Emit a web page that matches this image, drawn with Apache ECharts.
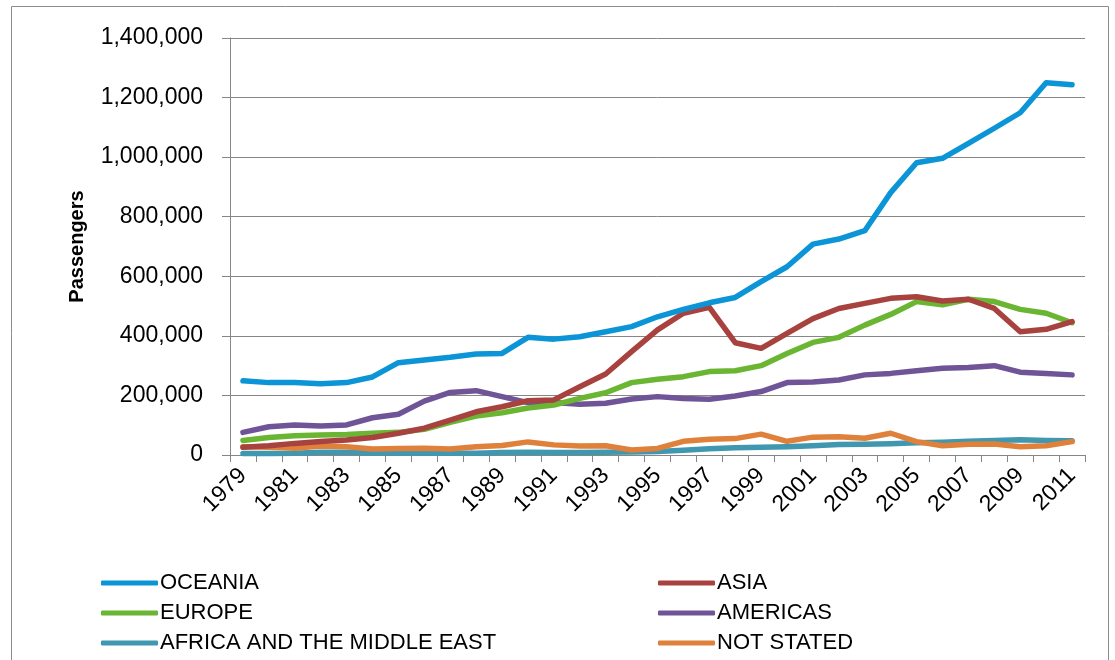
<!DOCTYPE html>
<html>
<head>
<meta charset="utf-8">
<script src="https://cdn.jsdelivr.net/npm/echarts@6/dist/echarts.min.js"></script>
<style>
html,body{margin:0;padding:0;background:#fff;}
#chart{width:1115px;height:660px;}
</style>
</head>
<body>
<div id="chart"></div>
<script>
var years = ['1979','1980','1981','1982','1983','1984','1985','1986','1987','1988','1989','1990','1991','1992','1993','1994','1995','1996','1997','1998','1999','2000','2001','2002','2003','2004','2005','2006','2007','2008','2009','2010','2011'];
var yTicks = [0, 200000, 400000, 600000, 800000, 1000000, 1200000, 1400000];

var oceania = [249000,243000,243000,239000,243000,262000,310000,319000,328000,339000,341000,395000,389000,397000,414000,431000,464000,489000,511000,529000,582000,632000,708000,725000,753000,881000,981000,996000,1046000,1097000,1149000,1250000,1243000];
var asia = [26000,31000,39000,45000,50000,59000,73000,90000,117000,145000,162000,182000,185000,229000,272000,347000,420000,476000,496000,377000,358000,408000,458000,492000,509000,526000,531000,517000,523000,492000,414000,422000,448000];
var europe = [49000,59000,65000,67000,69000,73000,76000,86000,110000,131000,142000,158000,168000,190000,209000,243000,254000,263000,280000,283000,300000,341000,378000,395000,436000,472000,515000,504000,523000,515000,489000,476000,444000];
var americas = [76000,95000,101000,97000,101000,125000,137000,181000,210000,216000,196000,176000,176000,170000,174000,188000,196000,190000,187000,198000,213000,243000,245000,252000,269000,274000,283000,291000,294000,300000,278000,274000,269000];
var africa = [5000,5000,6000,9000,9000,7000,7000,6000,6000,6000,8000,9000,8000,8000,9000,10000,12000,16000,21000,24000,26000,28000,31000,35000,36000,38000,41000,43000,46000,49000,51000,49000,48000];
var notStated = [28000,26000,23000,30000,28000,20000,22000,23000,20000,28000,32000,44000,34000,30000,31000,17000,22000,46000,53000,55000,70000,46000,60000,61000,56000,73000,45000,31000,36000,37000,28000,31000,45000];

var names = ['OCEANIA','ASIA','EUROPE','AMERICAS','AFRICA AND THE MIDDLE EAST','NOT STATED'];
var colors = ['#0B95D7','#A8423F','#6AB532','#6F5597','#3F97B0','#E0813B'];
var dataSets = [oceania, asia, europe, americas, africa, notStated];

var FONT = '"Liberation Sans", Arial, sans-serif';

function fmt(v){ return String(v).replace(/\B(?=(\d{3})+(?!\d))/g, ','); }

var series = [];
var order = [4,5,3,2,1,0];
order.forEach(function(i){
  series.push({
    name: names[i], type: 'line', data: dataSets[i],
    symbol: 'none', showSymbol: false, smooth: false,
    lineStyle: { color: colors[i], width: 5.5, cap: 'round', join: 'round' },
    itemStyle: { color: colors[i] },
    emphasis: { disabled: true }, animation: false
  });
});

var legendText = { fontFamily: FONT, fontSize: 22, color: '#000', lineHeight: 22, padding: [0,0,0,-3] };

var chart = echarts.init(document.getElementById('chart'), null, {renderer: 'canvas'});
chart.setOption({
  animation: false,
  backgroundColor: '#ffffff',
  graphic: [{
    type: 'rect', shape: { x: 11.5, y: 6.5, width: 1097, height: 700 },
    style: { fill: 'none', stroke: '#8c8c8c', lineWidth: 1 }, silent: true, z: -1
  }],
  grid: { left: 230, right: 30, top: 38, bottom: 205, containLabel: false },
  legend: [{
    orient: 'vertical', left: 96, top: 567,
    data: ['OCEANIA','EUROPE','AFRICA AND THE MIDDLE EAST'],
    icon: 'roundRect', itemWidth: 57, itemHeight: 5, itemGap: 8,
    textStyle: legendText, selectedMode: false
  },{
    orient: 'vertical', left: 653, top: 567,
    data: ['ASIA','AMERICAS','NOT STATED'],
    icon: 'roundRect', itemWidth: 57, itemHeight: 5, itemGap: 8,
    textStyle: legendText, selectedMode: false
  }],
  xAxis: {
    type: 'category', data: years, boundaryGap: true,
    axisLine: { show: true, lineStyle: { color: '#868686', width: 1 } },
    axisTick: { show: true, interval: 0, length: 7, lineStyle: { color: '#868686' } },
    axisLabel: { interval: 1, rotate: 45, margin: 17, fontFamily: FONT, fontSize: 23, color: '#000' },
    splitLine: { show: false }
  },
  yAxis: {
    type: 'value', min: yTicks[0], max: yTicks[yTicks.length-1], interval: yTicks[1]-yTicks[0],
    name: 'Passengers', nameLocation: 'middle', nameGap: 143, nameRotate: 90,
    nameTextStyle: { fontFamily: FONT, fontSize: 20, fontWeight: 'bold', color: '#000' },
    axisLine: { show: true, lineStyle: { color: '#868686', width: 1 } },
    axisTick: { show: true, length: 8, lineStyle: { color: '#868686' } },
    axisLabel: { margin: 27, fontFamily: FONT, fontSize: 23, color: '#000', formatter: function(v){ return fmt(v); } },
    splitLine: { show: true, lineStyle: { color: '#868686', width: 1 } }
  },
  series: series
});
</script>
</body>
</html>
